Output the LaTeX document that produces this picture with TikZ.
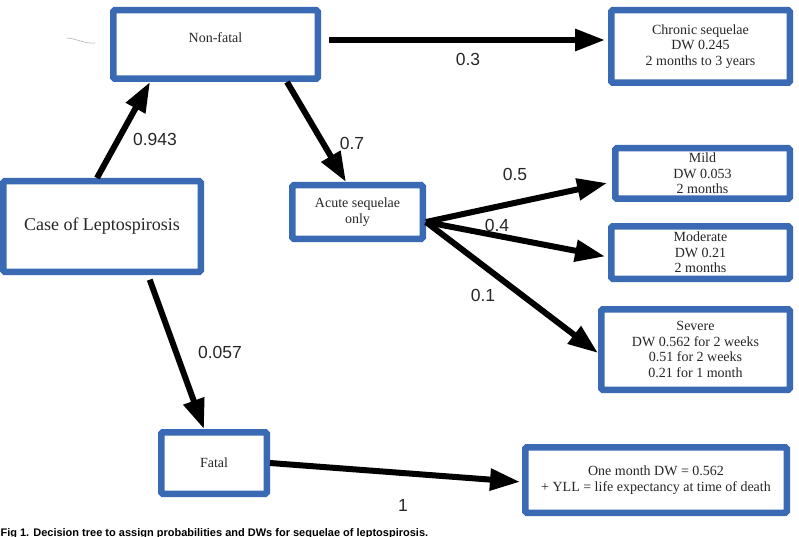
\documentclass[tikz,border=0pt]{standalone}
\usepackage{fontspec}
\setmainfont{Liberation Serif}
\setsansfont{Liberation Sans}
\usetikzlibrary{arrows.meta, positioning}

\definecolor{boxblue}{RGB}{58,106,180}

\begin{document}
\begin{tikzpicture}[
    % Define standard styles for the diagram components
    x=1pt, y=-1pt,
    statenode/.style={
        rectangle,
        draw=boxblue,
        fill=white,
        line width=6.5pt,
        inner sep=0pt,
        align=center,
        rounded corners=1.5pt,
        text=black!85,
        font=\fontsize{14}{15.7}\selectfont
    },
    arrow/.style={
        -{Triangle[length=30pt, width=21pt]},
        line width=6pt,
        draw=black
    },
    problabel/.style={
        text=black!85,
        font=\sffamily\fontsize{17.5}{20}\selectfont
    }
]
\useasboundingbox (0,0) rectangle (799,537);

% --- Nodes ---

% Root and first split
\node[statenode, minimum width=197.5pt, minimum height=90.5pt,
      font=\fontsize{18}{20}\selectfont] (case) at (102,226.5) {Case of Leptospirosis};
\node[statenode, minimum width=204.5pt, minimum height=68.5pt,
      text depth=13pt] (nonfatal) at (215.5,44.5) {Non-fatal};
\node[statenode, minimum width=105.5pt, minimum height=61.5pt] (fatal) at (214,463) {Fatal};

% Non-fatal branches
\node[statenode, minimum width=178.5pt, minimum height=72.5pt] (chronic) at (700.5,46.5)
    {Chronic sequelae\\DW 0.245\\2 months to 3 years};
\node[statenode, minimum width=130.5pt, minimum height=53.5pt] (acute) at (357.5,212)
    {Acute sequelae\\only};

% Acute outcomes
\node[statenode, minimum width=174.5pt, minimum height=50.5pt] (mild) at (702.5,173.5)
    {Mild\\DW 0.053\\2 months};
\node[statenode, minimum width=178.5pt, minimum height=52.5pt] (moderate) at (700.5,252.5)
    {Moderate\\DW 0.21\\2 months};
\node[statenode, minimum width=188.5pt, minimum height=80.5pt] (severe) at (695.5,349.5)
    {Severe\\DW 0.562 for 2 weeks\\0.51 for 2 weeks\\0.21 for 1 month};

% Fatal outcome
\node[statenode, minimum width=261.5pt, minimum height=65.5pt] (death) at (656,480)
    {One month DW = 0.562\\+ YLL = life expectancy at time of death};

% --- Connections ---
\draw[arrow] ([xshift=-5pt]case.north) -- ([xshift=-65.5pt]nonfatal.south);
\draw[arrow, shorten <=8pt, shorten >=3pt] ([yshift=4.5pt]nonfatal.east) -- ([yshift=6.5pt]chronic.west);
\draw[arrow] ([xshift=71.5pt]nonfatal.south) -- ([xshift=-11.5pt]acute.north);
\draw[arrow, shorten >=5pt] ([yshift=-10pt]acute.east) -- ([yshift=-8.5pt]mild.west);
\draw[arrow, shorten >=3pt] ([yshift=-10pt]acute.east) -- ([yshift=-4.5pt]moderate.west);
\draw[arrow] ([yshift=-10pt]acute.east) -- ([yshift=-3.5pt]severe.west);
\draw[arrow, shorten <=5pt] ([xshift=46pt]case.south) -- ([xshift=-10pt]fatal.north);
\draw[arrow, shorten >=2pt] (fatal.east) -- ([yshift=-2pt]death.west);

% Probabilities
\node[problabel] (p943) at (155,139) {0.943};
\node[problabel] (p03) at (468,59) {0.3};
\node[problabel] (p07) at (352,143) {0.7};
\node[problabel] (p05) at (515,174) {0.5};
\node[problabel] (p04) at (497,225) {0.4};
\node[problabel] (p01) at (483,295) {0.1};
\node[problabel] (p057) at (220,352) {0.057};
\node[problabel] (p1) at (403,505) {1};

% Stray pen mark
\draw[gray!60, line width=0.6pt] (67,38) .. controls (78,39) and (85,44) .. (95,43);

% Caption, cut by the page edge
\node[anchor=base west, font=\sffamily\bfseries\fontsize{11}{13}\selectfont] (caption) at (-3,536.5)
    {Fig 1. Decision tree to assign probabilities and DWs for sequelae of leptospirosis.};

\end{tikzpicture}
\end{document}
